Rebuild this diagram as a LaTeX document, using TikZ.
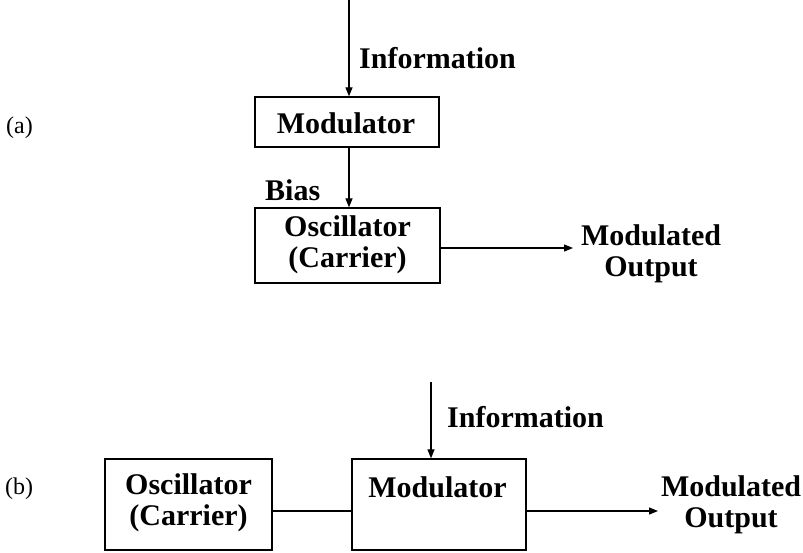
\documentclass[tikz,border=0pt]{standalone}
\usepackage{fontspec}
\setmainfont{Liberation Serif}
\usetikzlibrary{arrows.meta}
\tikzset{
  blk/.style={draw, line width=1.3pt, inner sep=0pt, minimum width=#1},
  lbl/.style={font=\fontsize{30}{30.5}\selectfont\bfseries, align=center, inner sep=0pt},
  tag/.style={font=\fontsize{24}{26}\selectfont, inner sep=0pt, anchor=west},
  wire/.style={line width=1.2pt},
  flow/.style={wire, -{Triangle[length=9pt,width=7pt]}}
}
\begin{document}
\begin{tikzpicture}[x=1pt,y=1pt]
  \useasboundingbox (0,0) rectangle (803,-552);

  % (a) carrier biased by the modulator
  \node[tag] (tagA) at (6,-128) {(a)};
  \node[blk=184, minimum height=50] (mod1) at (347,-122) {};
  \node[lbl, anchor=base] (mod1t) at (346,-133) {Modulator};
  \node[blk=185, minimum height=75] (osc1) at (347.5,-245.5) {};
  \node[lbl, anchor=base] (osc1t) at (347.5,-267) {Oscillator\\(Carrier)};
  \coordinate (in1) at (349,0);
  \draw[flow] (in1) -- (in1 |- mod1.north);
  \node[lbl, anchor=base west] (info1) at (359,-68) {Information};
  \draw[flow] (in1 |- mod1.south) -- (in1 |- osc1.north);
  \node[lbl, anchor=base west] (bias) at (265,-200) {Bias};
  \coordinate (out1) at (573,-248);
  \draw[flow] (osc1.east |- out1) -- (out1);
  \node[lbl, anchor=base] (res1) at (651,-276) {Modulated\\Output};

  % (b) modulator after the carrier
  \node[tag] (tagB) at (5,-489) {(b)};
  \node[blk=167, minimum height=91] (osc2) at (188.5,-504.5) {};
  \node[lbl, anchor=base] (osc2t) at (188.5,-525) {Oscillator\\(Carrier)};
  \node[blk=174, minimum height=91] (mod2) at (439,-504.5) {};
  \node[lbl, anchor=base] (mod2t) at (437.5,-497) {Modulator};
  \coordinate (in2) at (431,-382);
  \draw[flow] (in2) -- (in2 |- mod2.north);
  \node[lbl, anchor=base west] (info2) at (447,-427) {Information};
  \coordinate (out2) at (658,-511);
  \draw[wire] (osc2.east |- out2) -- (mod2.west |- out2);
  \draw[flow] (mod2.east |- out2) -- (out2);
  \node[lbl, anchor=base] (res2) at (731,-527) {Modulated\\Output};
\end{tikzpicture}
\end{document}
